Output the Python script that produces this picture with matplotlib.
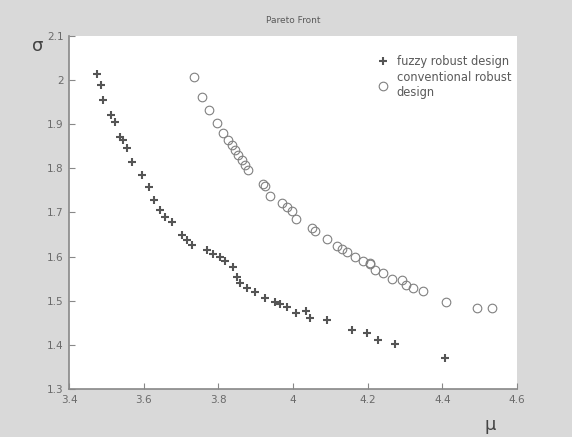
import numpy as np
import matplotlib.pyplot as plt

# fuzzy robust design points (mu, sigma)
fuzzy_mu = [3.474, 3.485, 3.490, 3.512, 3.523, 3.537, 3.545, 3.556, 3.568, 3.595,
            3.615, 3.628, 3.644, 3.657, 3.675, 3.702, 3.715, 3.729, 3.770, 3.787,
            3.804, 3.818, 3.840, 3.851, 3.858, 3.876, 3.898, 3.925, 3.952, 3.965,
            3.983, 4.008, 4.035, 4.046, 4.090, 4.157, 4.199, 4.229, 4.273, 4.407]
fuzzy_sigma = [2.013, 1.988, 1.955, 1.921, 1.905, 1.871, 1.864, 1.845, 1.815, 1.785,
               1.757, 1.727, 1.706, 1.690, 1.679, 1.649, 1.638, 1.626, 1.615, 1.606,
               1.599, 1.589, 1.577, 1.553, 1.540, 1.529, 1.519, 1.506, 1.498, 1.493,
               1.486, 1.473, 1.476, 1.461, 1.457, 1.434, 1.427, 1.412, 1.403, 1.370]

# conventional robust design points
conv_mu = [3.735, 3.755, 3.776, 3.796, 3.813, 3.827, 3.836, 3.845, 3.854, 3.863,
           3.871, 3.880, 3.920, 3.925, 3.938, 3.970, 3.983, 3.997, 4.008, 4.050,
           4.059, 4.092, 4.117, 4.131, 4.144, 4.166, 4.188, 4.206, 4.206, 4.220,
           4.242, 4.264, 4.291, 4.304, 4.322, 4.349, 4.410, 4.492, 4.532]
conv_sigma = [2.007, 1.962, 1.932, 1.902, 1.879, 1.864, 1.853, 1.841, 1.830, 1.819,
              1.807, 1.796, 1.765, 1.760, 1.736, 1.721, 1.713, 1.702, 1.685, 1.664,
              1.657, 1.639, 1.623, 1.617, 1.611, 1.600, 1.589, 1.586, 1.582, 1.570,
              1.562, 1.549, 1.547, 1.536, 1.529, 1.521, 1.498, 1.483, 1.483]

xticks = [3.4, 3.6, 3.8, 4.0, 4.2, 4.4, 4.6]
xtick_labels = ["3.4", "3.6", "3.8", "4", "4.2", "4.4", "4.6"]
yticks = [1.3, 1.4, 1.5, 1.6, 1.7, 1.8, 1.9, 2.0, 2.1]
ytick_labels = ["1.3", "1.4", "1.5", "1.6", "1.7", "1.8", "1.9", "2", "2.1"]

bg = "#d9d9d9"
txt = "#5a5a5a"

fig = plt.figure(figsize=(5.72, 4.37), dpi=100, facecolor=bg)
ax = fig.add_axes([0.1206, 0.1098, 0.7832, 0.8085])

ax.plot(fuzzy_mu, fuzzy_sigma, linestyle="none", marker="+", markersize=5.5,
        markeredgewidth=1.5, color="#555555", label="fuzzy robust design")
ax.plot(conv_mu, conv_sigma, linestyle="none", marker="o", markersize=6.2,
        markerfacecolor="none", markeredgewidth=0.8, color="#808080",
        label="conventional robust\ndesign")

ax.set_xlim(3.4, 4.6)
ax.set_ylim(1.3, 2.1)
ax.set_xticks(xticks)
ax.set_xticklabels(xtick_labels)
ax.set_yticks(yticks)
ax.set_yticklabels(ytick_labels)
ax.tick_params(direction="in", length=4, width=0.8, colors="#888888",
               labelcolor="#6a6a6a", labelsize=7.5, pad=4)

for s in ["top", "right"]:
    ax.spines[s].set_visible(False)
for s in ["left", "bottom"]:
    ax.spines[s].set_color("#888888")
    ax.spines[s].set_linewidth(1.2)

ax.set_title("Pareto Front", fontsize=6.5, color=txt, pad=9)
fig.text(0.066, 0.895, "σ", fontsize=13, color="#444444", ha="center", va="center")
fig.text(0.857, 0.028, "μ", fontsize=13, color="#444444", ha="center", va="center")

leg = ax.legend(loc="upper right", bbox_to_anchor=(1.0, 0.962), frameon=False,
                fontsize=8.3, handlelength=1.2, handletextpad=0.6,
                labelspacing=0.25, borderaxespad=0.1)
for t in leg.get_texts():
    t.set_color(txt)

fig.savefig("out.png", dpi=100, facecolor=bg)
